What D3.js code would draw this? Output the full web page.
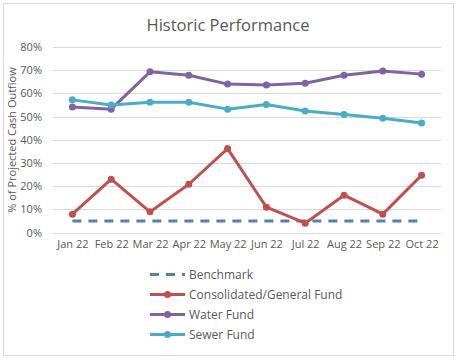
<!DOCTYPE html>
<html>
<head>
<meta charset="utf-8">
<script src="https://d3js.org/d3.v7.min.js"></script>
<style>
    body { margin: 0; background: #fff; }
    text { font-family: "Open Sans", sans-serif; fill: #595959; }
</style>
</head>
<body>
<svg id="chart" width="458" height="361"></svg>
<script>
// chart data
var months = ["Jan 22", "Feb 22", "Mar 22", "Apr 22", "May 22", "Jun 22", "Jul 22", "Aug 22", "Sep 22", "Oct 22"];
var benchmark = [5, 5, 5, 5, 5, 5, 5, 5, 5, 5];
var consolidated = [7.9, 23.0, 8.9, 20.8, 36.2, 10.9, 4.0, 16.1, 7.9, 24.7];
var water = [54.1, 53.2, 69.3, 67.8, 64.0, 63.6, 64.4, 67.8, 69.6, 68.3];
var sewer = [57.2, 55.0, 56.2, 56.2, 53.2, 55.2, 52.4, 50.9, 49.3, 47.2];
var yTicks = [0, 10, 20, 30, 40, 50, 60, 70, 80];

var series = [
    {name: "Benchmark", values: benchmark, color: "#4f81bd", dashed: true},
    {name: "Consolidated/General Fund", values: consolidated, color: "#c0504d", dashed: false},
    {name: "Water Fund", values: water, color: "#8064a2", dashed: false},
    {name: "Sewer Fund", values: sewer, color: "#4bacc6", dashed: false}
];

var svg = d3.select("#chart");

// outer border
svg.append("rect")
    .attr("x", 3.5).attr("y", 3.5)
    .attr("width", 450).attr("height", 352)
    .attr("fill", "#fff")
    .attr("stroke", "#d9d9d9");

// title
svg.append("text")
    .attr("x", 228).attr("y", 31)
    .attr("text-anchor", "middle")
    .style("font-size", "16.5px")
    .text("Historic Performance");

var x = d3.scalePoint().domain(months).range([53, 441]).padding(0.5);
var y = d3.scaleLinear().domain([0, 80]).range([232.5, 47]);

// gridlines
svg.append("g")
    .selectAll("line")
    .data(yTicks)
    .enter().append("line")
    .attr("x1", 53).attr("x2", 441)
    .attr("y1", d => Math.round(y(d)) + 0.5)
    .attr("y2", d => Math.round(y(d)) + 0.5)
    .attr("stroke", "#d9d9d9");

// y axis labels
var yAxis = svg.append("g")
    .attr("transform", "translate(53,0)")
    .call(d3.axisLeft(y).tickValues(yTicks).tickSize(0).tickPadding(11).tickFormat(d => d + "%"));
yAxis.select(".domain").remove();
yAxis.selectAll("text").style("font-size", "11px").attr("fill", "#595959");

// x axis labels
var xAxis = svg.append("g")
    .attr("transform", "translate(0,232.5)")
    .call(d3.axisBottom(x).tickSize(0).tickPadding(8));
xAxis.select(".domain").remove();
xAxis.selectAll("text").style("font-size", "11px").attr("fill", "#595959");

// y axis title
svg.append("text")
    .attr("transform", "translate(16,140) rotate(-90)")
    .attr("text-anchor", "middle")
    .style("font-size", "11px")
    .text("% of  Projected Cash Outflow");

var line = d3.line()
    .x((d, i) => x(months[i]))
    .y(d => y(d));

series.forEach(function(s) {
    svg.append("path")
        .datum(s.values)
        .attr("d", line)
        .attr("fill", "none")
        .attr("stroke", s.color)
        .attr("stroke-width", 3)
        .attr("stroke-linejoin", "round")
        .attr("stroke-dasharray", s.dashed ? "9,7" : null);
    if (!s.dashed) {
        svg.append("g")
            .selectAll("circle")
            .data(s.values)
            .enter().append("circle")
            .attr("cx", (d, i) => x(months[i]))
            .attr("cy", d => y(d))
            .attr("r", 3.5)
            .attr("fill", s.color);
    }
});

// legend
var legend = svg.append("g")
    .selectAll("g")
    .data(series)
    .enter().append("g")
    .attr("transform", (d, i) => "translate(150," + (274.5 + i * 20) + ")");

legend.append("line")
    .attr("x1", 0).attr("x2", 35)
    .attr("stroke", d => d.color)
    .attr("stroke-width", 3)
    .attr("stroke-dasharray", d => d.dashed ? "9,7" : null);

legend.filter(d => !d.dashed)
    .append("circle")
    .attr("cx", 17.5).attr("r", 3.5)
    .attr("fill", d => d.color);

legend.append("text")
    .attr("x", 39).attr("dy", "0.35em")
    .style("font-size", "12px")
    .text(d => d.name);
</script>
</body>
</html>
